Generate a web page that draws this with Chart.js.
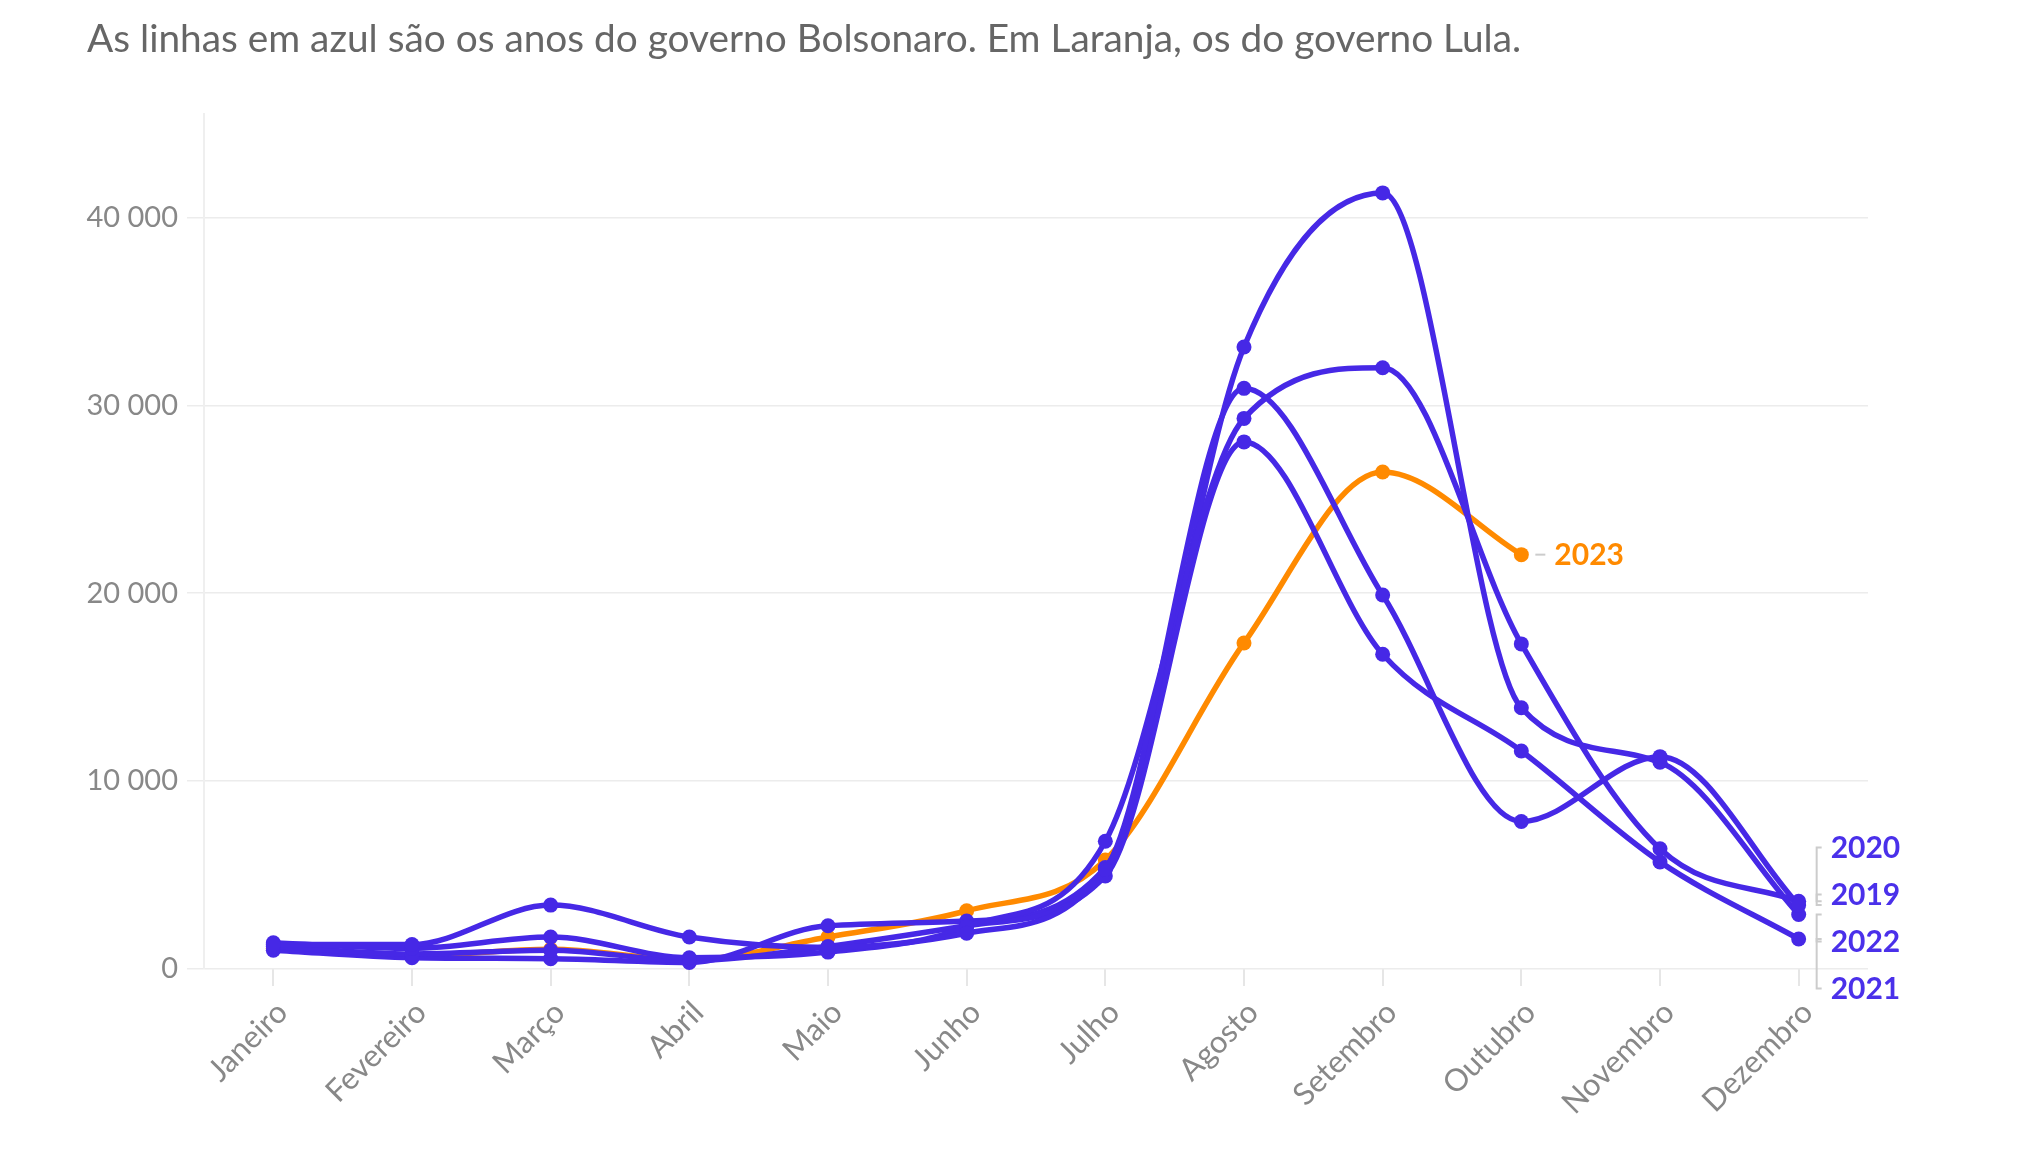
<!DOCTYPE html>
<html>
<head>
<meta charset="utf-8">
<script src="https://cdn.jsdelivr.net/npm/chart.js@4.4.1/dist/chart.umd.min.js"></script>
<style>
  html, body { margin: 0; padding: 0; background: #fff; }
  #wrap { position: relative; width: 2040px; height: 1168px; }
  #title { position: absolute; left: 87px; top: 14px; font-family: Lato, sans-serif; font-size: 38.8px; color: #666; white-space: nowrap; }
  canvas { position: absolute; left: 0; top: 0; }
</style>
</head>
<body>
<div id="wrap">
  <canvas id="c" width="2040" height="1168"></canvas>
  <div id="title">As linhas em azul são os anos do governo Bolsonaro. Em Laranja, os do governo Lula.</div>
</div>
<script>
const months = ['Janeiro','Fevereiro','Março','Abril','Maio','Junho','Julho','Agosto','Setembro','Outubro','Novembro','Dezembro'];
const y2019 = [1300, 1300, 3400, 1700, 1150, 1900, 5300, 30900, 19900, 7850, 11300, 3400];
const y2020 = [1400, 1100, 1700, 600, 900, 2250, 6800, 29300, 32000, 17300, 6400, 3600];
const y2021 = [1200, 800, 1000, 450, 1200, 2300, 4950, 28050, 16750, 11600, 5700, 1600];
const y2022 = [1000, 600, 550, 350, 2300, 2550, 5400, 33100, 41300, 13900, 11000, 2900];
const y2023 = [1100, 700, 1050, 500, 1700, 3100, 5800, 17350, 26450, 22050];
const yTicks = [0, 10000, 20000, 30000, 40000];
const yMax = 45500;

const BLUE = '#4628e6';
const ORANGE = '#ff8a00';
const fmt = v => String(v).replace(/\B(?=(\d{3})+(?!\d))/g, ' ');

function ds(label, data, color) {
  return {
    label, data,
    borderColor: color, backgroundColor: color,
    borderWidth: 5.5, pointRadius: 7.5, pointHoverRadius: 7.5,
    pointBorderWidth: 0, cubicInterpolationMode: 'monotone',
    spanGaps: false, clip: false
  };
}

const endLabels = {
  id: 'endLabels',
  afterDatasetsDraw(chart) {
    const ctx = chart.ctx;
    ctx.save();
    const oIdx = chart.data.datasets.findIndex(d => d.label === '2023');
    const om = chart.getDatasetMeta(oIdx);
    const op = om.data[chart.data.datasets[oIdx].data.length - 1];
    ctx.strokeStyle = '#cccccc';
    ctx.lineWidth = 2;
    ctx.beginPath(); ctx.moveTo(op.x + 14, op.y); ctx.lineTo(op.x + 24, op.y); ctx.stroke();
    ctx.font = 'bold 30px Lato, sans-serif';
    ctx.fillStyle = ORANGE;
    ctx.textBaseline = 'middle';
    ctx.textAlign = 'left';
    ctx.fillText('2023', op.x + 33, op.y + 1);

    const items = [];
    chart.data.datasets.forEach((d, i) => {
      if (d.label === '2023') return;
      const m = chart.getDatasetMeta(i);
      const p = m.data[d.data.length - 1];
      items.push({ label: d.label, x: p.x, y: p.y });
    });
    items.sort((a, b) => a.y - b.y);
    const gap = 47;
    const mean = items.reduce((s, it) => s + it.y, 0) / items.length;
    let pos = items.map(it => it.y);
    let overlap = false;
    for (let i = 1; i < pos.length; i++) if (pos[i] - pos[i - 1] < gap) overlap = true;
    if (overlap) pos = items.map((it, i) => mean + 3 + (i - (items.length - 1) / 2) * gap);
    items.forEach((it, i) => {
      const lx = it.x + 18;
      const ly = pos[i];
      ctx.strokeStyle = '#cccccc';
      ctx.lineWidth = 2;
      ctx.beginPath();
      ctx.moveTo(lx + 5, ly); ctx.lineTo(lx, ly); ctx.lineTo(lx, it.y); ctx.lineTo(lx + 5, it.y);
      ctx.stroke();
      ctx.fillStyle = '#4a30ea';
      ctx.font = 'bold 30px Lato, sans-serif';
      ctx.textBaseline = 'middle';
      ctx.fillText(it.label, it.x + 32, ly + 1);
    });
    ctx.restore();
  }
};

new Chart(document.getElementById('c'), {
  type: 'line',
  data: {
    labels: months,
    datasets: [
      ds('2019', y2019, BLUE),
      ds('2020', y2020, BLUE),
      ds('2021', y2021, BLUE),
      ds('2022', y2022, BLUE),
      ds('2023', y2023, ORANGE)
    ]
  },
  options: {
    responsive: false,
    animation: false,
    devicePixelRatio: 1,
    layout: { padding: { top: 114, right: 172, left: 0, bottom: 0 } },
    plugins: { legend: { display: false }, tooltip: { enabled: false }, title: { display: false } },
    scales: {
      x: {
        offset: true,
        grid: { offset: false, drawOnChartArea: false, drawTicks: true, tickLength: 17, color: '#e6e6e6', lineWidth: 2 },
        border: { display: false },
        ticks: {
          autoSkip: false, minRotation: 45, maxRotation: 45, padding: 8, labelOffset: 9,
          color: '#888', font: { family: 'Lato', size: 31 }
        },
        afterFit(s) { s.height = 199; }
      },
      y: {
        min: 0, max: yMax,
        afterBuildTicks(s) { s.ticks = yTicks.map(v => ({ value: v })); },
        grid: { color: '#ececec', lineWidth: 1.5, tickLength: 17, drawTicks: true },
        border: { display: true, color: '#efefef', width: 2 },
        ticks: { padding: 9, color: '#888', font: { family: 'Lato', size: 29 }, callback: v => fmt(v) },
        afterFit(s) { s.width = 204; }
      }
    }
  },
  plugins: [endLabels]
});
</script>
</body>
</html>
